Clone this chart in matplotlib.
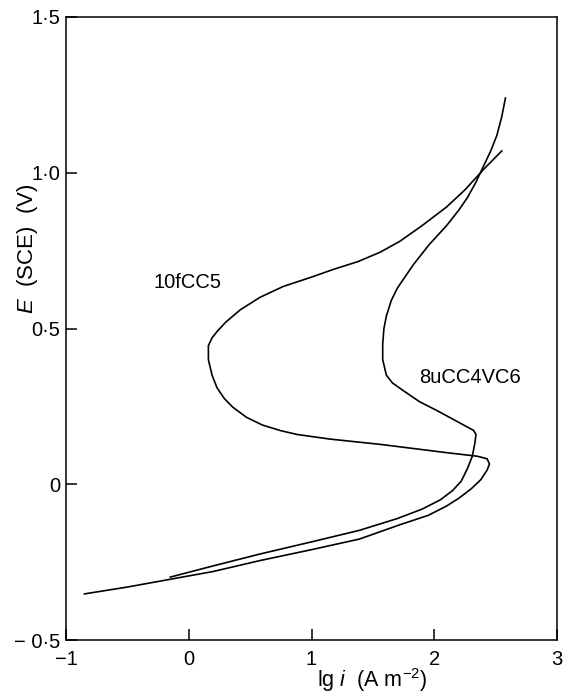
import matplotlib
matplotlib.use("Agg")
import matplotlib.pyplot as plt
from matplotlib.ticker import FixedLocator, FixedFormatter

# ---- data ----
x_10f = [-0.85, -0.50, -0.15, 0.20, 0.58, 1.00, 1.39, 1.72, 1.95, 2.10, 2.20, 2.30, 2.38,
         2.43, 2.45, 2.43, 2.35, 2.13, 1.56, 1.15, 0.88, 0.75, 0.60, 0.47, 0.36, 0.29,
         0.23, 0.19, 0.16, 0.16, 0.19, 0.23, 0.30, 0.42, 0.58, 0.77, 1.00, 1.18, 1.38,
         1.56, 1.72, 1.90, 2.10, 2.25, 2.40, 2.55]
e_10f = [-0.352, -0.330, -0.305, -0.280, -0.245, -0.210, -0.176, -0.130, -0.100, -0.070,
         -0.045, -0.015, 0.015, 0.045, 0.065, 0.082, 0.090, 0.100, 0.128, 0.145, 0.160,
         0.172, 0.190, 0.215, 0.247, 0.275, 0.310, 0.350, 0.400, 0.445, 0.470, 0.490,
         0.520, 0.560, 0.600, 0.635, 0.665, 0.690, 0.715, 0.745, 0.780, 0.830, 0.890,
         0.945, 1.010, 1.070]

x_8u = [-0.15, 0.20, 0.58, 1.00, 1.39, 1.70, 1.90, 2.05, 2.15, 2.22, 2.27, 2.31, 2.33,
        2.34, 2.32, 2.17, 2.02, 1.88, 1.75, 1.66, 1.61, 1.58, 1.58, 1.59, 1.61, 1.65,
        1.70, 1.83, 1.96, 2.10, 2.20, 2.27, 2.34, 2.40, 2.46, 2.51, 2.55, 2.58]
e_8u = [-0.298, -0.262, -0.224, -0.185, -0.148, -0.110, -0.080, -0.050, -0.020, 0.010,
        0.050, 0.090, 0.130, 0.160, 0.173, 0.205, 0.237, 0.265, 0.300, 0.325, 0.350,
        0.400, 0.450, 0.500, 0.540, 0.590, 0.630, 0.705, 0.770, 0.830, 0.880, 0.920,
        0.970, 1.020, 1.070, 1.120, 1.180, 1.240]

x_ticks = [-1, 0, 1, 2, 3]
x_tick_labels = ["\u22121", "0", "1", "2", "3"]
y_ticks = [-0.5, 0, 0.5, 1.0, 1.5]
y_tick_labels = ["\u2212 0\u00b75", "0", "0\u00b75", "1\u00b70", "1\u00b75"]

label_10f = "10fCC5"
label_8u = "8uCC4VC6"

# ---- figure ----
plt.rcParams['font.family'] = ['Liberation Sans', 'DejaVu Sans']
plt.rcParams['mathtext.fontset'] = 'custom'
plt.rcParams['mathtext.rm'] = 'Liberation Sans'
plt.rcParams['mathtext.it'] = 'Liberation Sans:italic'

fig = plt.figure(figsize=(5.63, 6.93), dpi=100)
ax = fig.add_axes([66/563, 1-640/693, (557-66)/563, (640-17)/693])

ax.plot(x_10f, e_10f, color='black', lw=1.2, solid_joinstyle='round')
ax.plot(x_8u, e_8u, color='black', lw=1.2, solid_joinstyle='round')

ax.set_xlim(-1, 3)
ax.set_ylim(-0.5, 1.5)

ax.xaxis.set_major_locator(FixedLocator(x_ticks))
ax.xaxis.set_major_formatter(FixedFormatter(x_tick_labels))
ax.yaxis.set_major_locator(FixedLocator(y_ticks))
ax.yaxis.set_major_formatter(FixedFormatter(y_tick_labels))

ax.tick_params(axis='x', direction='in', length=8, width=1.1, pad=7, labelsize=14.5)
ax.tick_params(axis='y', direction='in', length=8, width=1.1, pad=4, labelsize=14.5)
for s in ax.spines.values():
    s.set_linewidth(1.1)

ax.text(-0.29, 0.647, label_10f, fontsize=14.5, ha='left', va='center')
ax.text(1.88, 0.343, label_8u, fontsize=14.5, ha='left', va='center')

ax.set_xlabel(r'lg $i$  (A m$^{-2}$)', fontsize=15.5)
ax.xaxis.set_label_coords(0.623, -0.042)
ax.set_ylabel(r'$E$  (SCE)  (V)', fontsize=16)
ax.yaxis.set_label_coords(-0.053, 0.628)

fig.savefig('out.png', dpi=100)
